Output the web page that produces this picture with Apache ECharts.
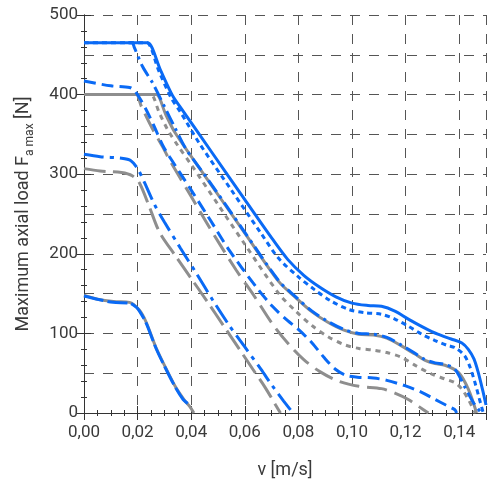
<!DOCTYPE html>
<html><head><meta charset="utf-8">
<script src="https://cdn.jsdelivr.net/npm/echarts@6/dist/echarts.min.js"></script>
<style>html,body{margin:0;padding:0;background:#fff}#c{width:489px;height:484px}</style>
</head><body><div id="c"></div>
<script>
// ---- data ([v m/s, F N]) ----
const blueSolid = [[0,465],[0.022,465],[0.0238,465],[0.0285,431],[0.033,399],[0.036,384],[0.048,326],[0.060,268],[0.070,220],[0.076,193],[0.082,173],[0.088,158],[0.094,146],[0.100,138],[0.106,135],[0.111,134],[0.116,128],[0.121,118],[0.127,107],[0.132,99],[0.137,93],[0.141,88],[0.1434,80],[0.1455,68],[0.1471,51],[0.1488,28],[0.150,10]];
const blueDotted = [[0,465],[0.022,465],[0.0235,465],[0.028,429],[0.0325,396],[0.036,378],[0.043,339],[0.055,280],[0.066,226],[0.0727,194],[0.080,171],[0.086,155],[0.092,141],[0.0988,130],[0.105,126],[0.111,124],[0.116,118],[0.121,109],[0.126,99],[0.131,91],[0.1355,85],[0.1385,82],[0.142,72],[0.144,58],[0.1459,38],[0.1475,18],[0.149,0]];
const blueDashDotA = [[0.0165,465],[0.018,465],[0.0188,459],[0.0219,435],[0.0257,414],[0.030,385],[0.034,358],[0.038,332],[0.0455,297],[0.060,227],[0.0727,166],[0.079,146],[0.0851,128],[0.091,115],[0.097,105],[0.1025,100],[0.108,99],[0.113,95],[0.1186,85],[0.1235,75],[0.1273,67],[0.131,63],[0.1347,61],[0.1384,55],[0.1422,32],[0.1455,12],[0.1483,0]];
const graySolid = [[0,400],[0.025,400],[0.027,400],[0.0305,375],[0.034,352],[0.0455,296],[0.060,226],[0.0727,165],[0.079,145],[0.0851,127],[0.091,114],[0.097,104],[0.1025,99],[0.108,98],[0.113,94],[0.1186,84],[0.1235,74],[0.1273,66],[0.131,62],[0.1347,60],[0.1397,51],[0.1434,30],[0.1465,0]];
const grayDotted = [[0,400],[0.023,400],[0.025,400],[0.0281,377],[0.0312,356],[0.035,336],[0.040,312],[0.050,262],[0.060,212],[0.0727,150],[0.079,128],[0.085,110],[0.091,96],[0.097,86],[0.1026,81],[0.108,79],[0.113,76],[0.1185,70],[0.124,59],[0.1297,49],[0.1345,43],[0.1384,38],[0.141,30],[0.1434,17],[0.146,0]];
const blueDashed = [[0,417],[0.010,411],[0.017,409],[0.0188,405],[0.0207,396],[0.0232,381],[0.0262,360],[0.0294,336],[0.0319,322],[0.040,280],[0.047,243],[0.0541,205],[0.0641,159],[0.0703,134],[0.076,116],[0.080,105],[0.0851,88],[0.0895,70],[0.0938,55],[0.098,47],[0.102,45],[0.108,44],[0.113,41],[0.120,34],[0.126,26],[0.131,17],[0.135,10],[0.1384,4],[0.139,0]];
const grayDashed = [[0.017,400],[0.0195,400],[0.0213,386],[0.0257,356],[0.0294,334],[0.0319,318],[0.040,272],[0.047,232],[0.0567,180],[0.0635,147],[0.0703,112],[0.0765,86],[0.082,67],[0.088,52],[0.095,40],[0.1026,33.5],[0.111,30.6],[0.116,25],[0.121,17],[0.125,8],[0.1285,0]];
const blueDashDotB = [[0,325],[0.006,322],[0.014,320],[0.0175,317],[0.020,307],[0.0225,290],[0.0263,262],[0.030,240],[0.036,207],[0.042,175],[0.048,142],[0.054,111],[0.060,83],[0.066,55],[0.0703,34],[0.0745,15],[0.078,0]];
const grayLongDash = [[0,307],[0.006,304],[0.014,302],[0.018,298],[0.0207,289],[0.0245,258],[0.0282,227],[0.034,198],[0.040,169],[0.046,140],[0.052,110],[0.058,80],[0.063,55],[0.0678,31],[0.0715,10],[0.0733,0]];
const blueLow = [[0,147],[0.005,143],[0.0108,139],[0.017,138],[0.0195,133],[0.0207,128],[0.0232,113],[0.0269,81],[0.0306,55],[0.0343,31],[0.037,17],[0.0387,12]];
const grayLow = [[0,148],[0.005,143],[0.011,140],[0.017,139],[0.0207,129],[0.0232,114],[0.0269,82],[0.0306,56],[0.0343,32],[0.0375,16],[0.0395,8],[0.041,0]];

const xTicksEvery = 0.02, yTicksEvery = 100, yGridEvery = 50;

const BLUE = '#0a6af5', GRAY = '#8e8e8e', TXT = '#3a3a3a', AX = '#333';
const chart = echarts.init(document.getElementById('c'), null, {renderer:'canvas'});
function ln(data, color, dash, z){
  return {type:'line', data, showSymbol:false, smooth:0.3, z:z||2,
    lineStyle:{color, width:3, type:dash, cap:'butt'}, xAxisIndex:0, yAxisIndex:0, animation:false};
}
const xLab = v => (Math.abs(v/xTicksEvery - Math.round(v/xTicksEvery))<1e-6) ? v.toFixed(2).replace('.',',') : '';
const baseX = {type:'value', min:0, max:0.15, interval:xTicksEvery,
  axisLine:{show:true, lineStyle:{color:AX,width:1}},
  axisTick:{show:true, inside:true, length:7, lineStyle:{color:AX}},
  minorTick:{show:true, splitNumber:4, length:3, lineStyle:{color:AX}},
  splitLine:{show:false}};
const baseY = {type:'value', min:0, max:500, interval:yTicksEvery,
  axisLine:{show:true, lineStyle:{color:AX,width:1}},
  axisTick:{show:true, inside:true, length:7, lineStyle:{color:AX}},
  minorTick:{show:true, splitNumber:5, length:3, lineStyle:{color:AX}},
  splitLine:{show:false}};
const grid = {type:[10,9], color:'#555', width:1};
chart.setOption({
  animation:false,
  grid:{left:84, right:1.5, top:15, bottom:70.3},
  xAxis:[
    Object.assign({}, baseX, {position:'bottom',
      splitLine:{show:true, lineStyle:grid},
      axisLabel:{formatter:xLab, color:TXT, fontFamily:'Roboto', fontSize:17, margin:11},
      name:'v [m/s]', nameLocation:'middle', nameGap:48,
      nameTextStyle:{color:TXT, fontFamily:'Roboto', fontSize:18}}),
    Object.assign({}, baseX, {position:'top', axisLabel:{show:false}})
  ],
  yAxis:[
    Object.assign({}, baseY, {position:'left',
      axisLabel:{color:TXT, fontFamily:'Roboto', fontSize:17, margin:6},
      name:'{n|Maximum axial load F}{s|a max}{n| [N]}', nameLocation:'middle', nameGap:52, nameRotate:90,
      nameTextStyle:{rich:{n:{color:TXT, fontFamily:'Roboto', fontSize:18, lineHeight:22, verticalAlign:'bottom'},
                           s:{color:TXT, fontFamily:'Roboto', fontSize:12, lineHeight:22, verticalAlign:'bottom', padding:[0,0,-4,0]}}}}),
    Object.assign({}, baseY, {position:'right', axisLabel:{show:false}}),
    {type:'value', min:0, max:500, interval:yGridEvery, position:'left', axisLine:{show:false}, axisTick:{show:false},
      axisLabel:{show:false}, splitLine:{show:true, lineStyle:grid}}
  ],
  series:[
    ln(grayLow, GRAY, 'solid', 2),
    ln(blueLow, BLUE, [20,4], 3),
    ln(grayLongDash, GRAY, [22,7], 2),
    ln(blueDashDotB, BLUE, [20,6,4,6], 3),
    ln(grayDashed, GRAY, [20,8], 2),
    ln(blueDashed, BLUE, [12,6], 3),
    ln(grayDotted, GRAY, [5,5], 2),
    ln(graySolid, GRAY, 'solid', 2),
    ln(blueDashDotA, BLUE, [14,5,3,5], 3),
    ln(blueDotted, BLUE, [5,4], 3),
    ln(blueSolid, BLUE, 'solid', 4)
  ]
});
</script></body></html>
